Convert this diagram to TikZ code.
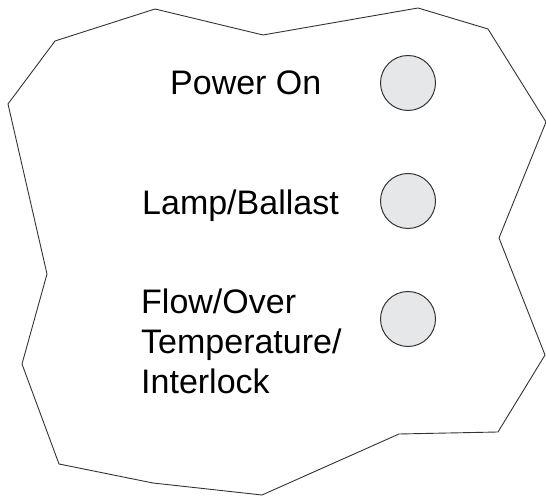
\documentclass[tikz,border=0pt]{standalone}
\usepackage{fontspec}
\setmainfont{Liberation Sans}
\definecolor{ledfill}{HTML}{E6E7E8}
\definecolor{edge}{HTML}{333333}
\begin{document}
\begin{tikzpicture}[x=1pt,y=1pt,
  outline/.style={draw=edge,line width=0.9pt,line join=miter},
  led/.style={circle,draw=edge,fill=ledfill,line width=1pt,minimum size=55pt,inner sep=0pt},
  lbl/.style={inner sep=0pt,font=\fontsize{34}{40}\selectfont}]
\useasboundingbox (0,0) rectangle (546,497);
\draw[outline] (8,393) -- (55,456) -- (155,488) -- (263,462) -- (418,489) -- (488,468)
  -- (546,375) -- (499,259) -- (545,142) -- (498,65) -- (399,63) -- (262,2)
  -- (153,14) -- (59,33) -- (22,133) -- (47,223) -- cycle;
\node[led] (ledpower) at (408,414) {};
\node[led] (ledlamp) at (408,296) {};
\node[led] (ledflow) at (408,178) {};
\node[lbl,anchor=base west] (tpower) at (170,402) {Power On};
\node[lbl,anchor=base west] (tlamp) at (142,282) {Lamp/Ballast};
\node[lbl,anchor=north west,align=left] (tflow) at (141,208) {Flow/Over\\Temperature/\\Interlock};
\end{tikzpicture}
\end{document}
